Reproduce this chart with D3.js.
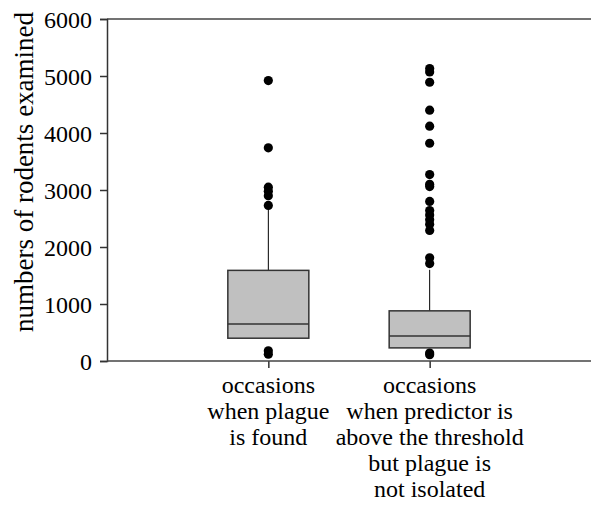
<!DOCTYPE html>
<html>
<head>
<meta charset="utf-8">
<script src="https://cdn.jsdelivr.net/npm/d3@7"></script>
<style>
  body { margin: 0; background: #fff; }
  text { font-family: "Liberation Serif", "Times New Roman", serif; fill: #000; }
</style>
</head>
<body>
<div id="chart"></div>
<script>
// categories and box summaries
var groups = ["found", "notIsolated"];
var groupLabels = [
  ["occasions", "when plague", "is found"],
  ["occasions", "when predictor is", "above the threshold", "but plague is", "not isolated"]
];
var q1 = [400, 230];
var median = [650, 440];
var q3 = [1590, 880];
var whiskerLow = [400, 230];
var whiskerHigh = [2700, 1600];
var outliers = [
  [4920, 3740, 3050, 2980, 2900, 2730, 180, 120],
  [5130, 5070, 4890, 4400, 4120, 3820, 3270, 3100, 3060, 2800, 2640, 2560, 2480, 2400, 2290, 1810, 1710, 140, 110]
];
var yTicks = [0, 1000, 2000, 3000, 4000, 5000, 6000];

var width = 591, height = 515;
var margin = {top: 19, right: 0, bottom: 154, left: 107};

var svg = d3.select("#chart").append("svg")
  .attr("width", width)
  .attr("height", height);

var x = d3.scalePoint()
  .domain(groups)
  .range([margin.left, width - margin.right])
  .padding(1);

var y = d3.scaleLinear()
  .domain([0, 6000])
  .range([height - margin.bottom, margin.top]);

var boxW = 81;

// top frame line
svg.append("line")
  .attr("x1", margin.left).attr("x2", width)
  .attr("y1", y(6000)).attr("y2", y(6000))
  .attr("stroke", "#444").attr("stroke-width", 1.5);

// y axis
var yAxis = svg.append("g")
  .attr("transform", "translate(" + margin.left + ",0)")
  .call(d3.axisLeft(y).tickValues(yTicks).tickSize(7).tickPadding(8).tickFormat(d3.format("d")));
yAxis.select(".domain").attr("stroke", "#333").attr("stroke-width", 1.5);
yAxis.selectAll(".tick line").attr("stroke", "#333").attr("stroke-width", 1.5);
yAxis.selectAll("text")
  .attr("dy", "0.34em")
  .style("font-family", "'Liberation Serif', serif")
  .style("font-size", "24px");

// x axis
var xAxis = svg.append("g")
  .attr("transform", "translate(0," + y(0) + ")")
  .call(d3.axisBottom(x).tickSize(7).tickFormat(""));
xAxis.select(".domain").remove();
xAxis.selectAll(".tick line").attr("stroke", "#333").attr("stroke-width", 1.5);
svg.append("line")
  .attr("x1", margin.left).attr("x2", width)
  .attr("y1", y(0)).attr("y2", y(0))
  .attr("stroke", "#444").attr("stroke-width", 1.5);

// category labels
groups.forEach(function(g, i) {
  var t = svg.append("text")
    .attr("text-anchor", "middle")
    .style("font-size", "24px");
  groupLabels[i].forEach(function(line, j) {
    t.append("tspan")
      .attr("x", x(g))
      .attr("y", y(0) + 32 + j * 26)
      .text(line);
  });
});

// y label
svg.append("text")
  .attr("transform", "translate(33," + ((y(0) + y(6000)) / 2 - 18) + ") rotate(-90)")
  .attr("text-anchor", "middle")
  .style("font-size", "27px")
  .text("numbers of rodents examined");

// boxes
var boxes = svg.selectAll("g.box")
  .data(groups)
  .enter().append("g")
  .attr("class", "box");

boxes.append("line")
  .attr("x1", function(d) { return x(d); })
  .attr("x2", function(d) { return x(d); })
  .attr("y1", function(d, i) { return y(q3[i]); })
  .attr("y2", function(d, i) { return y(whiskerHigh[i]); })
  .attr("stroke", "#000").attr("stroke-width", 1);

boxes.append("line")
  .attr("x1", function(d) { return x(d); })
  .attr("x2", function(d) { return x(d); })
  .attr("y1", function(d, i) { return y(q1[i]); })
  .attr("y2", function(d, i) { return y(whiskerLow[i]); })
  .attr("stroke", "#000").attr("stroke-width", 1);

boxes.append("rect")
  .attr("x", function(d) { return x(d) - boxW / 2; })
  .attr("width", boxW)
  .attr("y", function(d, i) { return y(q3[i]); })
  .attr("height", function(d, i) { return y(q1[i]) - y(q3[i]); })
  .attr("fill", "#c0c0c0")
  .attr("stroke", "#333").attr("stroke-width", 1.5);

boxes.append("line")
  .attr("x1", function(d) { return x(d) - boxW / 2; })
  .attr("x2", function(d) { return x(d) + boxW / 2; })
  .attr("y1", function(d, i) { return y(median[i]); })
  .attr("y2", function(d, i) { return y(median[i]); })
  .attr("stroke", "#333").attr("stroke-width", 1.5);

// outliers
boxes.each(function(d, i) {
  d3.select(this).selectAll("circle")
    .data(outliers[i])
    .enter().append("circle")
    .attr("cx", x(d))
    .attr("cy", function(v) { return y(v); })
    .attr("r", 4.6)
    .attr("fill", "#000");
});
</script>
</body>
</html>
